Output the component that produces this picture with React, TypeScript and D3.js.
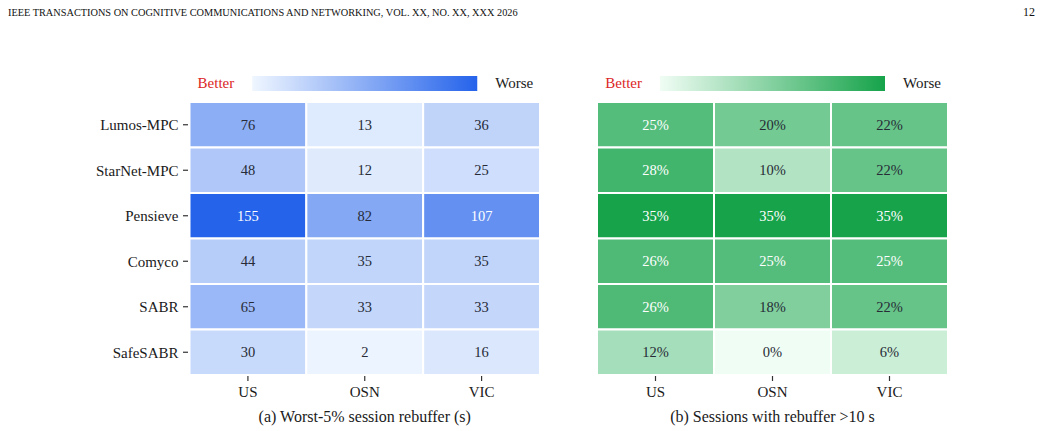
import * as d3 from "d3";

// methods (rows) and test regions (columns)
const methods = ["Lumos-MPC", "StarNet-MPC", "Pensieve", "Comyco", "SABR", "SafeSABR"];
const regions = ["US", "OSN", "VIC"];

// (a) worst-5% session rebuffer, seconds
const worstRebuffer = [
  [76, 13, 36],
  [48, 12, 25],
  [155, 82, 107],
  [44, 35, 35],
  [65, 33, 33],
  [30, 2, 16],
];

// (b) share of sessions with rebuffer > 10 s, percent
const longRebufferPct = [
  [25, 20, 22],
  [28, 10, 22],
  [35, 35, 35],
  [26, 25, 25],
  [26, 18, 22],
  [12, 0, 6],
];

const W = 1041;
const H = 431;
const FONT = "'Liberation Serif', 'Times New Roman', serif";
const top = 102;
const bottom = 375;

type PanelProps = {
  id: string;
  left: number;
  right: number;
  values: number[][];
  lo: string;
  hi: string;
  fmt: (v: number) => string;
  caption: string;
  yLabels: boolean;
};

const Panel = ({ id, left, right, values, lo, hi, fmt, caption, yLabels }: PanelProps) => {
  const max = d3.max(values.flat()) as number;
  const x = d3.scaleBand<string>().domain(regions).range([left, right]);
  const y = d3.scaleBand<string>().domain(methods).range([top, bottom]);
  const color = d3.scaleLinear<string>().domain([0, max]).range([lo, hi]).interpolate(d3.interpolateRgb);

  const cx = (left + right) / 2;
  const barW = 225;
  const barX = cx - barW / 2;

  return (
    <g>
      <defs>
        <linearGradient id={id}>
          <stop offset="0%" stopColor={lo} />
          <stop offset="100%" stopColor={hi} />
        </linearGradient>
      </defs>

      {/* colour key */}
      <text x={barX - 18} y={83} dy="0.35em" textAnchor="end" fontSize={15} fill="#dc2626">Better</text>
      <rect x={barX} y={76} width={barW} height={15} fill={`url(#${id})`} />
      <text x={barX + barW + 18} y={83} dy="0.35em" fontSize={15} fill="#1a1a1a">Worse</text>

      {/* cells */}
      {values.map((row, i) =>
        row.map((v, j) => {
          const xx = x(regions[j]) as number;
          const yy = y(methods[i]) as number;
          return (
            <g key={`${i}-${j}`}>
              <rect x={xx} y={yy} width={x.bandwidth()} height={y.bandwidth()}
                fill={color(v)} stroke="#fff" strokeWidth={2} />
              <text x={xx + x.bandwidth() / 2} y={yy + y.bandwidth() / 2} dy="0.35em"
                textAnchor="middle" fontSize={14.5}
                fill={v / max > 0.65 ? "#ffffff" : "#262b36"}>
                {fmt(v)}
              </text>
            </g>
          );
        })
      )}

      {/* y axis */}
      {yLabels && methods.map((m) => {
        const yy = (y(m) as number) + y.bandwidth() / 2;
        return (
          <g key={m}>
            <line x1={left - 6.5} x2={left - 1.5} y1={yy} y2={yy} stroke="#333" strokeWidth={1.2} />
            <text x={left - 11} y={yy} dy="0.35em" textAnchor="end" fontSize={15} fill="#1a1a1a">{m}</text>
          </g>
        );
      })}

      {/* x axis */}
      {regions.map((r) => {
        const xx = (x(r) as number) + x.bandwidth() / 2;
        return (
          <g key={r}>
            <line x1={xx} x2={xx} y1={bottom + 1} y2={bottom + 6} stroke="#333" strokeWidth={1.2} />
            <text x={xx} y={392} dy="0.35em" textAnchor="middle" fontSize={15} fill="#1a1a1a">{r}</text>
          </g>
        );
      })}

      <text x={cx} y={416.5} dy="0.35em" textAnchor="middle" fontSize={16} fill="#1a1a1a">{caption}</text>
    </g>
  );
};

export default function App() {
  return (
    <svg width={W} height={H} style={{ position: "absolute", left: 0, top: 0, background: "#fff" }}
      fontFamily={FONT}>
      <text x={8} y={12} dy="0.35em" fontSize={10.3} fill="#111">
        IEEE TRANSACTIONS ON COGNITIVE COMMUNICATIONS AND NETWORKING, VOL. XX, NO. XX, XXX 2026
      </text>
      <text x={1035} y={12} dy="0.35em" textAnchor="end" fontSize={12} fill="#111">12</text>

      <Panel id="gradBlue" left={189.5} right={540} values={worstRebuffer}
        lo="#eff6ff" hi="#2563eb" fmt={(v) => `${v}`}
        caption="(a) Worst-5% session rebuffer (s)" yLabels={true} />
      <Panel id="gradGreen" left={597} right={948} values={longRebufferPct}
        lo="#f0fdf4" hi="#16a34a" fmt={(v) => `${v}%`}
        caption="(b) Sessions with rebuffer >10 s" yLabels={false} />
    </svg>
  );
}
